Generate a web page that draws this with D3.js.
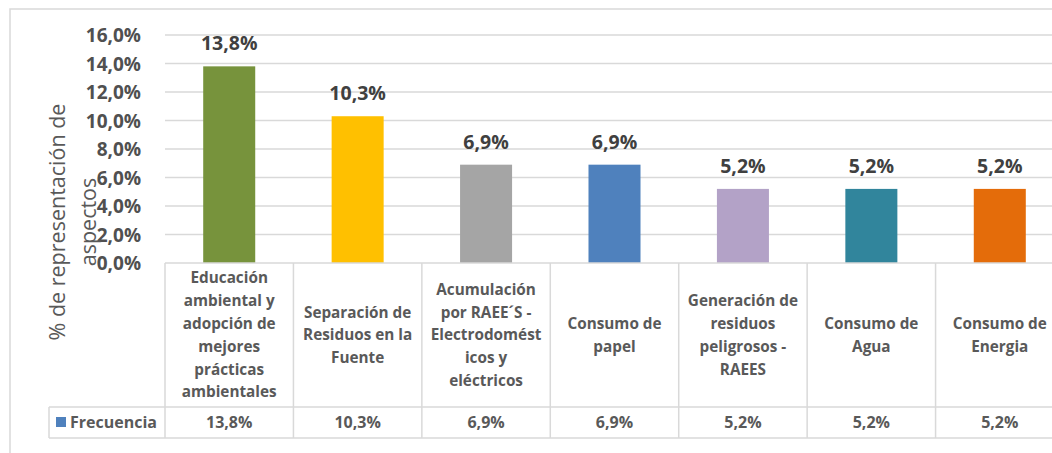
<!DOCTYPE html>
<html>
    <head>
        <meta charset="utf-8">
        <script src="https://d3js.org/d3.v7.min.js"></script>
        <style>
            body {
                margin: 0;
                background: #fff;
            }
            svg {
                font-family: 'Open Sans', sans-serif;
            }
            .grid line {
                stroke: #d9d9d9;
                stroke-width: 1.3px;
            }
            .cell {
                stroke: #d9d9d9;
                stroke-width: 1.5px;
            }
        </style>
    </head>

    <body>
        <script>
            // data
            const categories = [
                ['Educación', 'ambiental y', 'adopción de', 'mejores', 'prácticas', 'ambientales'],
                ['Separación de', 'Residuos en la', 'Fuente'],
                ['Acumulación', 'por RAEE´S -', 'Electrodomést', 'icos y', 'eléctricos'],
                ['Consumo de', 'papel'],
                ['Generación de', 'residuos', 'peligrosos -', 'RAEES'],
                ['Consumo de', 'Agua'],
                ['Consumo de', 'Energia']
            ];
            const frecuencia = [13.8, 10.3, 6.9, 6.9, 5.2, 5.2, 5.2];
            const barColors = ['#77933c', '#ffc000', '#a5a5a5', '#4f81bd', '#b3a2c7', '#31859c', '#e46c0a'];
            const yTicks = [0, 2, 4, 6, 8, 10, 12, 14, 16];
            const seriesName = 'Frecuencia';
            const yTitle = ['% de representación de', 'aspectos'];

            const width = 1052;
            const height = 453;
            const fmt = (v) => v.toFixed(1).replace('.', ',') + '%';

            const svg = d3.select('body').append('svg').attr('width', width).attr('height', height);

            // outer chart border
            svg.append('rect').attr('x', 10).attr('y', 9).attr('width', 1100).attr('height', 500)
                .attr('fill', 'none').attr('stroke', '#d9d9d9').attr('stroke-width', 1.5);

            const x = d3.scaleBand().domain(d3.range(categories.length)).range([165, 1064]).padding(0);
            const y = d3.scaleLinear().domain([0, 16]).range([263, 35]);

            // gridlines
            svg.append('g').attr('class', 'grid')
                .selectAll('line').data(yTicks.slice(1)).join('line')
                .attr('x1', 165).attr('x2', 1064)
                .attr('y1', (d) => y(d)).attr('y2', (d) => y(d));

            // y axis labels
            const yAxis = svg.append('g').attr('transform', 'translate(165,0)')
                .call(d3.axisLeft(y).tickValues(yTicks).tickFormat(fmt).tickSize(0).tickPadding(24));
            yAxis.select('.domain').remove();
            yAxis.selectAll('text')
                .attr('font-family', 'Open Sans').attr('font-size', 19).attr('font-weight', 700)
                .attr('fill', '#505050').attr('dy', '0.35em');

            // y title
            const title = svg.append('text').attr('transform', 'translate(0,222) rotate(-90)')
                .attr('text-anchor', 'middle').attr('font-size', 21.5).attr('fill', '#595959');
            title.selectAll('tspan').data(yTitle).join('tspan')
                .attr('x', 0).attr('y', (d, i) => 65 + i * 31).text((d) => d);

            // bars
            const bw = x.bandwidth() * 0.405;
            svg.append('g').selectAll('rect').data(frecuencia).join('rect')
                .attr('x', (d, i) => x(i) + (x.bandwidth() - bw) / 2)
                .attr('y', (d) => y(d))
                .attr('width', bw)
                .attr('height', (d) => y(0) - y(d))
                .attr('fill', (d, i) => barColors[i]);

            // value labels
            svg.append('g').selectAll('text').data(frecuencia).join('text')
                .attr('x', (d, i) => x(i) + x.bandwidth() / 2)
                .attr('y', (d) => y(d) - 16)
                .attr('text-anchor', 'middle').attr('font-size', 19.5).attr('font-weight', 700)
                .attr('fill', '#404040').text(fmt);

            // data table
            const rowTop = y(0);
            const rowMid = 407;
            const rowBot = 438;
            const table = svg.append('g');
            table.append('line').attr('class', 'cell').attr('x1', 165).attr('x2', 1064).attr('y1', rowTop).attr('y2', rowTop);
            table.append('line').attr('class', 'cell').attr('x1', 49).attr('x2', 1064).attr('y1', rowMid).attr('y2', rowMid);
            table.append('line').attr('class', 'cell').attr('x1', 49).attr('x2', 1064).attr('y1', rowBot).attr('y2', rowBot);
            table.append('line').attr('class', 'cell').attr('x1', 49).attr('x2', 49).attr('y1', rowMid).attr('y2', rowBot);
            table.selectAll('.vsep').data(d3.range(categories.length + 1)).join('line')
                .attr('class', 'cell vsep')
                .attr('x1', (i) => (i < categories.length ? x(i) : x.range()[1]))
                .attr('x2', (i) => (i < categories.length ? x(i) : x.range()[1]))
                .attr('y1', rowTop).attr('y2', rowBot);

            // category labels
            const lh = 22.8;
            const catText = table.selectAll('.cat').data(categories).join('text')
                .attr('class', 'cat')
                .attr('text-anchor', 'middle').attr('font-size', 15.3).attr('font-weight', 700)
                .attr('fill', '#595959');
            catText.each(function (lines, i) {
                const cx = x(i) + x.bandwidth() / 2;
                const cy = (rowTop + rowMid) / 2;
                const start = cy - ((lines.length - 1) * lh) / 2;
                d3.select(this).selectAll('tspan').data(lines).join('tspan')
                    .attr('x', cx).attr('y', (d, j) => start + j * lh).attr('dy', '0.35em').text((d) => d);
            });

            // value row
            table.selectAll('.val').data(frecuencia).join('text')
                .attr('class', 'val')
                .attr('x', (d, i) => x(i) + x.bandwidth() / 2)
                .attr('y', (rowMid + rowBot) / 2).attr('dy', '0.35em')
                .attr('text-anchor', 'middle').attr('font-size', 16).attr('font-weight', 700)
                .attr('fill', '#595959').text(fmt);

            // legend key in table
            table.append('rect').attr('x', 56).attr('y', 417).attr('width', 10).attr('height', 10).attr('fill', '#4f81bd');
            table.append('text').attr('x', 70).attr('y', (rowMid + rowBot) / 2).attr('dy', '0.35em')
                .attr('font-size', 16).attr('font-weight', 700).attr('fill', '#595959').text(seriesName);
        </script>
    </body>
</html>
